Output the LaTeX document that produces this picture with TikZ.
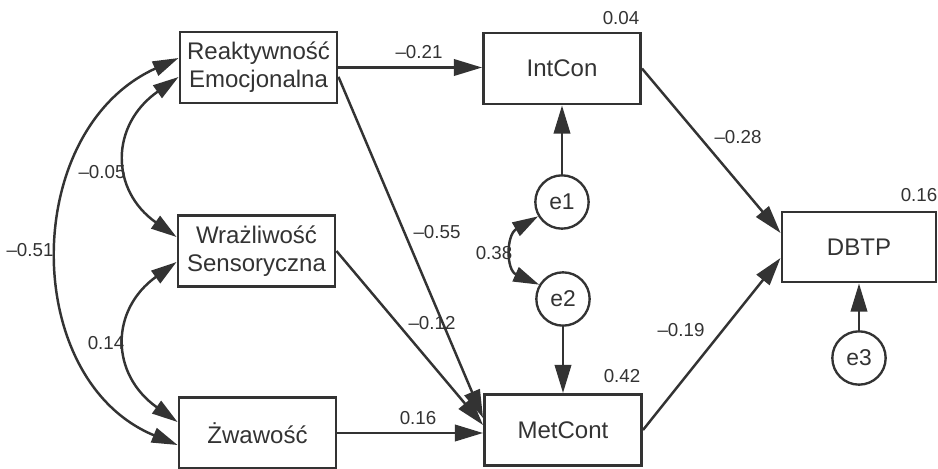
\documentclass[tikz,border=0pt]{standalone}
\usepackage{fontspec}
\setmainfont{Liberation Sans}
\usetikzlibrary{arrows.meta}
\definecolor{ink}{HTML}{333333}
\begin{document}
\begin{tikzpicture}[x=0.03cm,y=-0.03cm,
  box/.style={draw=ink,line width=2.5pt,text=ink,minimum width=4.71cm,minimum height=2.13cm,inner sep=0pt,align=center,font=\fontsize{20.5}{24}\selectfont},
  err/.style={circle,draw=ink,line width=2pt,text=ink,minimum size=1.6cm,inner sep=0pt,font=\fontsize{19.5}{22}\selectfont},
  lab/.style={text=ink,inner sep=0pt,font=\fontsize{16}{18}\selectfont},
  conn/.style={draw=ink,line width=2.1pt,-{Triangle[length=24pt,width=14pt]}},
  cov/.style={draw=ink,line width=2.1pt,{Triangle[length=22pt,width=13pt]}-{Triangle[length=22pt,width=13pt]}}]
\useasboundingbox (0,0) rectangle (938,469);

% boxes
\node[box] (R) at (258.5,67.5) {Reaktywność\\Emocjonalna};
\node[box] (W) at (256.5,251) {Wrażliwość\\Sensoryczna};
\node[box] (Z) at (257.5,433) {Żwawość};
\node[box] (I) at (562,68.5) {IntCon};
\node[box] (M) at (563,430) {MetCont};
\node[box,minimum width=4.62cm,minimum height=2.1cm] (D) at (859,247) {DBTP};

% error terms
\node[err] (e1) at (562,202) {e1};
\node[err] (e2) at (563,299) {e2};
\node[err] (e3) at (859,358) {e3};

% directed paths
\draw[conn] (R.east) -- (R.east -| I.west);
\draw[conn] ([yshift=-0.28cm]R.east) -- ([yshift=0.36cm]M.west);
\draw[conn] (W.east) -- ([yshift=0.15cm]M.west);
\draw[conn] (Z.east) -- (Z.east -| M.west);
\draw[conn] (I.east) -- ([yshift=0.42cm]D.west);
\draw[conn] (M.east) -- ([yshift=-0.33cm]D.west);
\draw[conn] (e1.north) -- (e1.north |- I.south);
\draw[conn] (e2.south) -- (e2.south |- M.north);
\draw[conn] (e3.north) -- (e3.north |- D.south);

% covariances
\draw[cov] ([yshift=-0.285cm]R.west) .. controls (110,125) and (110,190) .. ([yshift=0.42cm]W.west);
\draw[cov] ([yshift=-0.33cm]W.west) .. controls (110,310) and (110,374) .. ([yshift=0.33cm]Z.west);
\draw[cov] ([yshift=0.285cm]R.west) .. controls (20,130) and (20,380) .. ([yshift=-0.36cm]Z.west);
\draw[cov] (e1.211) .. controls (506,235) and (506,270) .. (e2.149);

% labels
\node[lab] (l1) at (419,52) {\textendash0.21};
\node[lab] (l2) at (102,172) {\textendash0.05};
\node[lab] (l3) at (30,250) {\textendash0.51};
\node[lab] (l4) at (106,343) {0.14};
\node[lab] (l5) at (437,232) {\textendash0.55};
\node[lab] (l6) at (432,323) {\textendash0.12};
\node[lab] (l7) at (418,418) {0.16};
\node[lab] (l8) at (621,18) {0.04};
\node[lab] (l9) at (738,137) {\textendash0.28};
\node[lab] (l10) at (919,195) {0.16};
\node[lab] (l11) at (494,253) {0.38};
\node[lab] (l12) at (681,330) {\textendash0.19};
\node[lab] (l13) at (622,376) {0.42};
\end{tikzpicture}
\end{document}
